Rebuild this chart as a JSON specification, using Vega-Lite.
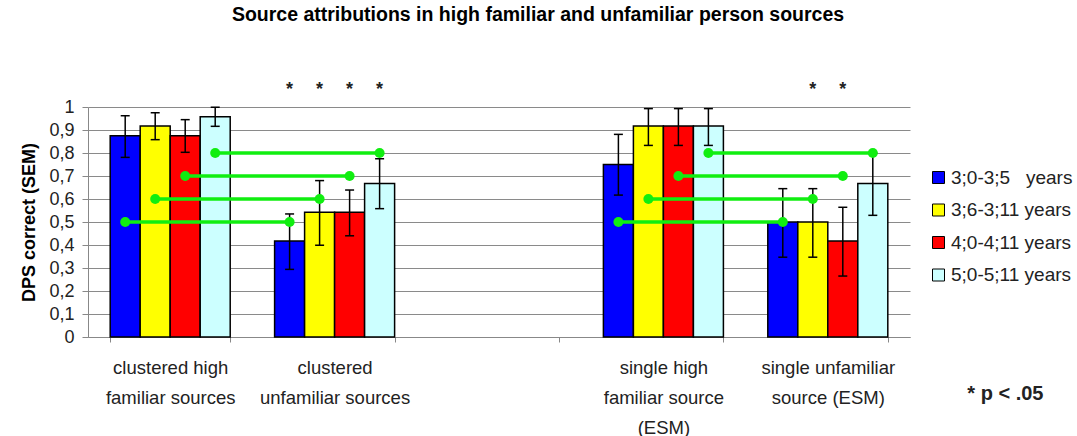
{
  "$schema": "https://vega.github.io/schema/vega-lite/v6.json",
  "width": 822,
  "height": 230,
  "autosize": {"type": "none"},
  "padding": {"left": 88, "top": 107, "right": 167, "bottom": 99},
  "background": "white",
  "config": {
    "view": {"stroke": null},
    "font": "Liberation Sans",
    "axisY": {"tickCount": 10, "labelOverlap": false, "labelFlush": false}
  },
  "title": {
    "text": "Source attributions in high familiar and unfamiliar person sources",
    "font": "Liberation Sans", "fontSize": 19.5, "fontWeight": "bold", "color": "black",
    "anchor": "middle", "dx": 39, "offset": 55
  },
  "datasets": {
    "bars": [
      {"cat": "clustered high|familiar sources", "age": "3;0-3;5\u00a0\u00a0\u00a0years", "value": 0.875, "lo": 0.781, "hi": 0.962},
      {"cat": "clustered high|familiar sources", "age": "3;6-3;11 years", "value": 0.917, "lo": 0.858, "hi": 0.975},
      {"cat": "clustered high|familiar sources", "age": "4;0-4;11 years", "value": 0.875, "lo": 0.803, "hi": 0.945},
      {"cat": "clustered high|familiar sources", "age": "5;0-5;11 years", "value": 0.958, "lo": 0.916, "hi": 0.999},
      {"cat": "clustered|unfamiliar sources", "age": "3;0-3;5\u00a0\u00a0\u00a0years", "value": 0.417, "lo": 0.294, "hi": 0.535},
      {"cat": "clustered|unfamiliar sources", "age": "3;6-3;11 years", "value": 0.542, "lo": 0.399, "hi": 0.68},
      {"cat": "clustered|unfamiliar sources", "age": "4;0-4;11 years", "value": 0.542, "lo": 0.44, "hi": 0.639},
      {"cat": "clustered|unfamiliar sources", "age": "5;0-5;11 years", "value": 0.667, "lo": 0.558, "hi": 0.775},
      {"cat": "single high|familiar source|(ESM)", "age": "3;0-3;5\u00a0\u00a0\u00a0years", "value": 0.75, "lo": 0.617, "hi": 0.881},
      {"cat": "single high|familiar source|(ESM)", "age": "3;6-3;11 years", "value": 0.917, "lo": 0.833, "hi": 0.993},
      {"cat": "single high|familiar source|(ESM)", "age": "4;0-4;11 years", "value": 0.917, "lo": 0.833, "hi": 0.993},
      {"cat": "single high|familiar source|(ESM)", "age": "5;0-5;11 years", "value": 0.917, "lo": 0.833, "hi": 0.993},
      {"cat": "single unfamiliar|source (ESM)", "age": "3;0-3;5\u00a0\u00a0\u00a0years", "value": 0.5, "lo": 0.347, "hi": 0.645},
      {"cat": "single unfamiliar|source (ESM)", "age": "3;6-3;11 years", "value": 0.5, "lo": 0.347, "hi": 0.645},
      {"cat": "single unfamiliar|source (ESM)", "age": "4;0-4;11 years", "value": 0.417, "lo": 0.265, "hi": 0.564},
      {"cat": "single unfamiliar|source (ESM)", "age": "5;0-5;11 years", "value": 0.667, "lo": 0.529, "hi": 0.8}
    ],
    "links": [
      {"pair": "L", "cat": "clustered high|familiar sources", "age": "3;0-3;5\u00a0\u00a0\u00a0years", "y": 0.5},
      {"pair": "L", "cat": "clustered|unfamiliar sources", "age": "3;0-3;5\u00a0\u00a0\u00a0years", "y": 0.5},
      {"pair": "L", "cat": "clustered high|familiar sources", "age": "3;6-3;11 years", "y": 0.6},
      {"pair": "L", "cat": "clustered|unfamiliar sources", "age": "3;6-3;11 years", "y": 0.6},
      {"pair": "L", "cat": "clustered high|familiar sources", "age": "4;0-4;11 years", "y": 0.7},
      {"pair": "L", "cat": "clustered|unfamiliar sources", "age": "4;0-4;11 years", "y": 0.7},
      {"pair": "L", "cat": "clustered high|familiar sources", "age": "5;0-5;11 years", "y": 0.8},
      {"pair": "L", "cat": "clustered|unfamiliar sources", "age": "5;0-5;11 years", "y": 0.8},
      {"pair": "R", "cat": "single high|familiar source|(ESM)", "age": "3;0-3;5\u00a0\u00a0\u00a0years", "y": 0.5},
      {"pair": "R", "cat": "single unfamiliar|source (ESM)", "age": "3;0-3;5\u00a0\u00a0\u00a0years", "y": 0.5},
      {"pair": "R", "cat": "single high|familiar source|(ESM)", "age": "3;6-3;11 years", "y": 0.6},
      {"pair": "R", "cat": "single unfamiliar|source (ESM)", "age": "3;6-3;11 years", "y": 0.6},
      {"pair": "R", "cat": "single high|familiar source|(ESM)", "age": "4;0-4;11 years", "y": 0.7},
      {"pair": "R", "cat": "single unfamiliar|source (ESM)", "age": "4;0-4;11 years", "y": 0.7},
      {"pair": "R", "cat": "single high|familiar source|(ESM)", "age": "5;0-5;11 years", "y": 0.8},
      {"pair": "R", "cat": "single unfamiliar|source (ESM)", "age": "5;0-5;11 years", "y": 0.8}
    ],
    "stars": [
      {"cat": "clustered|unfamiliar sources", "age": "3;0-3;5\u00a0\u00a0\u00a0years", "mark": "*"},
      {"cat": "clustered|unfamiliar sources", "age": "3;6-3;11 years", "mark": "*"},
      {"cat": "clustered|unfamiliar sources", "age": "4;0-4;11 years", "mark": "*"},
      {"cat": "clustered|unfamiliar sources", "age": "5;0-5;11 years", "mark": "*"},
      {"cat": "single unfamiliar|source (ESM)", "age": "3;6-3;11 years", "mark": "*"},
      {"cat": "single unfamiliar|source (ESM)", "age": "4;0-4;11 years", "mark": "*"}
    ]
  },
  "encoding": {
    "x": {
      "field": "cat", "type": "nominal",
      "scale": {
        "domain": ["clustered high|familiar sources", "clustered|unfamiliar sources", "gap", "single high|familiar source|(ESM)", "single unfamiliar|source (ESM)"],
        "paddingInner": 0.27, "paddingOuter": 0.135
      },
      "axis": {
        "title": "* p < .05",
        "titleFontSize": 20, "titleFontWeight": "bold", "titleColor": "#222222",
        "titleX": 955, "titleY": 56, "titleAlign": "right", "titleBaseline": "middle", "titleAnchor": null,
        "labelExpr": "isValid(datum.value) && datum.value != 'gap' ? split(datum.value, '|') : ''",
        "labelAngle": 0, "labelFontSize": 18.5, "labelLineHeight": 30, "labelColor": "#222222",
        "labelPadding": 16, "labelLimit": 300, "labelOverlap": false,
        "tickBand": "extent", "tickSize": 5, "tickColor": "#888888",
        "domainColor": "#888888", "grid": false
      }
    },
    "xOffset": {
      "field": "age", "type": "nominal",
      "scale": {"domain": ["3;0-3;5\u00a0\u00a0\u00a0years", "3;6-3;11 years", "4;0-4;11 years", "5;0-5;11 years"], "paddingInner": 0, "paddingOuter": 0}
    }
  },
  "layer": [
    {
      "data": {"name": "bars"},
      "mark": {"type": "bar", "stroke": "black", "strokeWidth": 1.5},
      "encoding": {
        "y": {
          "field": "value", "type": "quantitative",
          "scale": {"domain": [0, 1], "nice": false},
          "axis": {
            "title": "DPS correct (SEM)", "titleFontSize": 18, "titleFontWeight": "bold", "titleColor": "black", "titlePadding": 10,
            "tickCount": 10,
            "labelExpr": "replace(format(datum.value, '~g'), '.', ',')",
            "labelFontSize": 18, "labelColor": "#222222", "labelPadding": 8, "labelOverlap": false, "labelFlush": false,
            "tickSize": 6, "tickColor": "#888888",
            "domainColor": "#888888",
            "grid": true, "gridColor": "#8a8a8a", "gridWidth": 1
          }
        },
        "color": {
          "field": "age", "type": "nominal",
          "scale": {
            "domain": ["3;0-3;5\u00a0\u00a0\u00a0years", "3;6-3;11 years", "4;0-4;11 years", "5;0-5;11 years"],
            "range": ["#0000ff", "#ffff00", "#ff0000", "#ccffff"]
          },
          "legend": {
            "title": null, "orient": "none", "legendX": 841, "legendY": 61,
            "symbolType": "square", "symbolSize": 144, "symbolStrokeColor": "black", "symbolStrokeWidth": 1,
            "symbolOpacity": 1,
            "labelFontSize": 19, "labelColor": "#222222", "labelOffset": 3, "rowPadding": 12.5, "labelLimit": 300
          }
        }
      }
    },
    {
      "data": {"name": "bars"},
      "mark": {"type": "rule", "color": "black", "strokeWidth": 1.5},
      "encoding": {
        "y": {"field": "lo", "type": "quantitative"},
        "y2": {"field": "hi"}
      }
    },
    {
      "data": {"name": "bars"},
      "mark": {"type": "tick", "orient": "horizontal", "size": 9, "thickness": 1.5, "color": "black", "opacity": 1},
      "encoding": {"y": {"field": "lo", "type": "quantitative"}}
    },
    {
      "data": {"name": "bars"},
      "mark": {"type": "tick", "orient": "horizontal", "size": 9, "thickness": 1.5, "color": "black", "opacity": 1},
      "encoding": {"y": {"field": "hi", "type": "quantitative"}}
    },
    {
      "data": {"name": "links"},
      "mark": {"type": "line", "color": "#10ee10", "strokeWidth": 3.5},
      "encoding": {
        "y": {"field": "y", "type": "quantitative"},
        "detail": [{"field": "pair", "type": "nominal"}, {"field": "age", "type": "nominal"}]
      }
    },
    {
      "data": {"name": "links"},
      "mark": {"type": "point", "filled": true, "color": "#10ee10", "size": 100, "opacity": 1},
      "encoding": {"y": {"field": "y", "type": "quantitative"}}
    },
    {
      "data": {"name": "stars"},
      "mark": {"type": "text", "fontSize": 18, "fontWeight": "bold", "color": "#222222", "baseline": "middle"},
      "encoding": {
        "y": {"datum": 1.075},
        "text": {"field": "mark"}
      }
    }
  ]
}
